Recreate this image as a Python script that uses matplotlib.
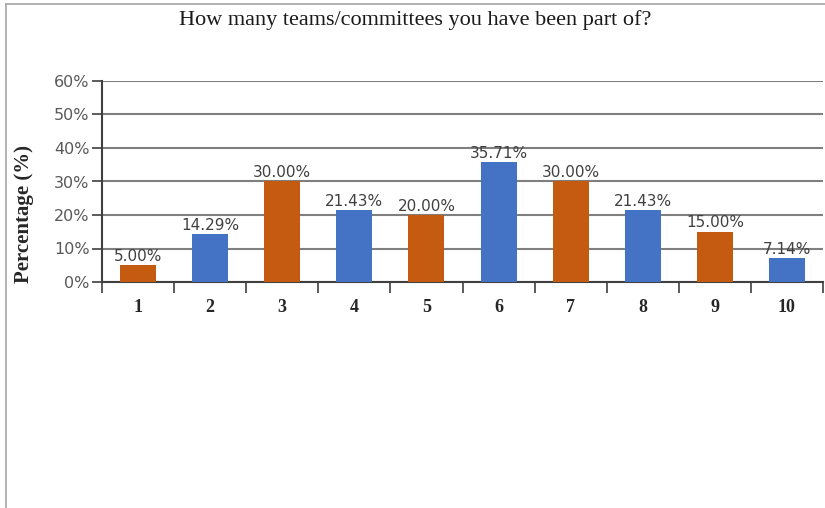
import matplotlib.pyplot as plt
from matplotlib.lines import Line2D
import numpy as np

categories = ['1', '2', '3', '4', '5', '6', '7', '8', '9', '10']
values = [5.00, 14.29, 30.00, 21.43, 20.00, 35.71, 30.00, 21.43, 15.00, 7.14]
bar_colors = ['#C55A11', '#4472C4'] * 5

fig = plt.figure(figsize=(8.25, 5.08), dpi=100)
ax = fig.add_axes([102 / 825, 1 - 282 / 508, 721 / 825, 201 / 508])

x = np.arange(len(categories))
ax.bar(x, values, width=0.5, color=bar_colors, zorder=3)

for xi, v in zip(x, values):
    ax.annotate(f'{v:.2f}%', (xi, v), xytext=(0, 1), textcoords='offset points',
                ha='center', va='bottom', fontsize=11, color='#404040',
                family='DejaVu Sans', zorder=4)

ax.set_xlim(-0.5, len(categories) - 0.5)
ax.set_ylim(0, 60)
ax.set_yticks(range(0, 61, 10))
ax.set_yticklabels([f'{t}%' for t in range(0, 61, 10)], fontsize=11.5,
                   color='#595959', family='DejaVu Sans')
ax.yaxis.grid(True, color='#7f7f7f', linewidth=1.5, zorder=0)
ax.tick_params(axis='y', length=7, width=1.2, color='#404040', pad=2)

# category ticks sit on the boundaries, labels in the middle
ax.set_xticks(np.arange(-0.5, len(categories), 1.0))
ax.set_xticklabels([])
ax.set_xticks(x, minor=True)
ax.set_xticklabels(categories, minor=True, fontsize=13, fontweight='bold',
                   family='Liberation Serif', color='#262626')
ax.tick_params(axis='x', which='major', length=8, width=1.2, color='#404040')
ax.tick_params(axis='x', which='minor', length=0, pad=12)

for side in ['top', 'right']:
    ax.spines[side].set_visible(False)
ax.spines['left'].set_color('#404040')
ax.spines['left'].set_linewidth(1.5)
ax.spines['bottom'].set_color('#404040')
ax.spines['bottom'].set_linewidth(1.5)

ax.set_ylabel('Percentage (%)', fontsize=15, fontweight='bold',
              family='Liberation Serif', color='#262626')
ax.yaxis.set_label_coords(-0.095, 0.338)

fig.text(415 / 825, 1 - 20 / 508, 'How many teams/committees you have been part of?',
         ha='center', va='center', fontsize=16, family='Liberation Serif',
         color='#1a1a1a')

# outer frame (only top and left edges visible)
fig.add_artist(Line2D([6 / 825, 1], [1 - 4 / 508, 1 - 4 / 508], color='#a6a6a6',
                      linewidth=1.2, transform=fig.transFigure))
fig.add_artist(Line2D([6 / 825, 6 / 825], [0, 1 - 4 / 508], color='#a6a6a6',
                      linewidth=1.2, transform=fig.transFigure))

fig.savefig('out.png', dpi=100)
